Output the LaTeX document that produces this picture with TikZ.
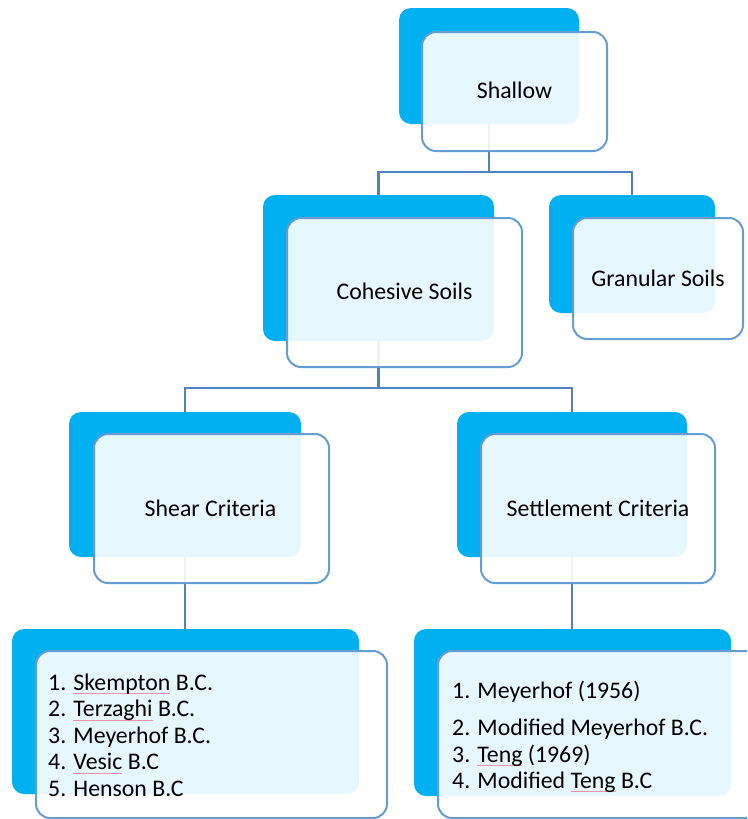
\documentclass[tikz,border=0pt]{standalone}
\usepackage{fontspec}
\setmainfont{Carlito}

\definecolor{backblue}{RGB}{0,176,240}
\definecolor{frameblue}{RGB}{100,156,212}
\definecolor{linkblue}{RGB}{79,129,189}
\definecolor{spellred}{RGB}{238,150,160}

% word with a thin proofing underline
\newcommand\spellmark[1]{\setbox0\hbox{#1}\rlap{\textcolor{spellred}{\raisebox{-4pt}{\rule{\wd0}{0.9pt}}}}\box0\relax}

\tikzset{
  backbox/.style={rectangle, rounded corners=12pt, fill=backblue, draw=none,
                  inner sep=0pt, outer sep=0pt},
  frontbox/.style={rectangle, rounded corners=14pt, draw=frameblue, line width=2pt,
                   fill=white, fill opacity=0.9, inner sep=0pt, outer sep=0pt},
  link/.style={draw=linkblue, line width=2.2pt},
  lbl/.style={inner sep=0pt, font=\fontsize{23.8pt}{26pt}\selectfont, text=black},
}

\begin{document}
\begin{tikzpicture}[x=1pt,y=-1pt]
\useasboundingbox (0,0) rectangle (747,819);
\clip (0,0) rectangle (747,819);

% junction points of the tree
\coordinate (j1) at (489,172);
\coordinate (j2) at (378.5,388);

% connectors (drawn first, they pass under the boxes)
\path[link] (489,124) -- (j1);
\path[link] (j1) -| (378.5,195);
\path[link] (j1) -| (632,195);
\path[link] (378.5,341) -- (j2);
\path[link] (j2) -| (185,412);
\path[link] (j2) -| (572,412);
\path[link] (185,557) -- (185,629);
\path[link] (572,557) -- (572,629);

% back (solid blue) boxes
\node[backbox, minimum width=180pt, minimum height=116pt] (shallowB) at (489,66) {};
\node[backbox, minimum width=231pt, minimum height=146pt] (cohB) at (378.5,268) {};
\node[backbox, minimum width=166pt, minimum height=118pt] (granB) at (632,254) {};
\node[backbox, minimum width=232pt, minimum height=145pt] (shearB) at (185,484.5) {};
\node[backbox, minimum width=230pt, minimum height=145pt] (settB) at (572,484.5) {};
\node[backbox, minimum width=347pt, minimum height=165pt] (shearListB) at (185.5,711.5) {};
\node[backbox, minimum width=317pt, minimum height=167pt] (settListB) at (572.5,712.5) {};

% front (outlined, translucent) boxes
\node[frontbox, minimum width=185pt, minimum height=119pt] (shallowF) at (514.5,91.5) {};
\node[frontbox, minimum width=235pt, minimum height=149pt] (cohF) at (404.5,292.5) {};
\node[frontbox, minimum width=170pt, minimum height=121pt] (granF) at (658,278.5) {};
\node[frontbox, minimum width=235pt, minimum height=149pt] (shearF) at (211.5,508.5) {};
\node[frontbox, minimum width=234pt, minimum height=149pt] (settF) at (598,508.5) {};
\node[frontbox, minimum width=351pt, minimum height=167pt] (shearListF) at (211.5,734.5) {};
\node[frontbox, minimum width=321pt, minimum height=167pt] (settListF) at (598.5,734.5) {};

% titles
\node[lbl, anchor=base] (tShallow) at (514.5,98.5) {Shallow};
\node[lbl, anchor=base] (tCoh) at (404.5,299) {Cohesive Soils};
\node[lbl, anchor=base] (tGran) at (658,286) {Granular Soils};
\node[lbl, anchor=base] (tShear) at (210.5,516) {Shear Criteria};
\node[lbl, anchor=base] (tSett) at (598,516) {Settlement Criteria};

% shear criteria list
\node[lbl, anchor=base west] (s1) at (48,690) {1. \spellmark{Skempton} B.C.};
\node[lbl, anchor=base west] (s2) at (48,716.5) {2. \spellmark{Terzaghi} B.C.};
\node[lbl, anchor=base west] (s3) at (48,743) {3. Meyerhof B.C.};
\node[lbl, anchor=base west] (s4) at (48,769.5) {4. \spellmark{Vesic} B.C};
\node[lbl, anchor=base west] (s5) at (48,796) {5. Henson B.C};

% settlement criteria list
\node[lbl, anchor=base west] (m1) at (452,698) {1. Meyerhof (1956)};
\node[lbl, anchor=base west] (m2) at (452,735) {2. Modified Meyerhof B.C.};
\node[lbl, anchor=base west] (m3) at (452,762) {3. \spellmark{Teng} (1969)};
\node[lbl, anchor=base west] (m4) at (452,788) {4. Modified \spellmark{Teng} B.C};
\end{tikzpicture}
\end{document}
